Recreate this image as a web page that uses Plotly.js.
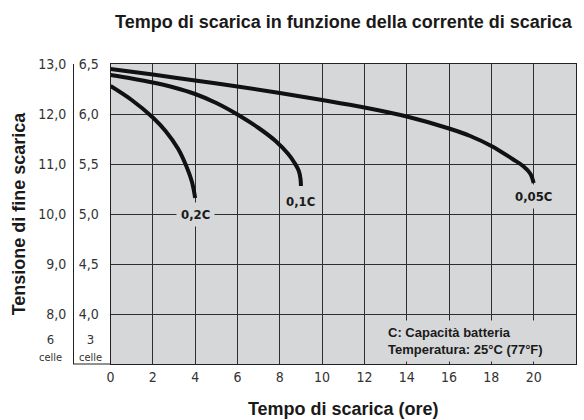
<!DOCTYPE html>
<html>
<head>
<meta charset="utf-8">
<script src="https://cdn.plot.ly/plotly-3.0.1.min.js"></script>
<style>html,body{margin:0;padding:0;background:#fff;}#chart{width:584px;height:420px;}</style>
</head>
<body>
<div id="chart"></div>
<script>
// Discharge time (hours) vs end voltage (3-cell scale, V)
const hours005 = [0, 2, 4, 6, 8, 10, 12, 14, 16, 17, 18, 19, 19.5, 19.85, 20];
const volts005 = [6.45, 6.395, 6.335, 6.275, 6.21, 6.14, 6.065, 5.975, 5.855, 5.78, 5.68, 5.55, 5.48, 5.40, 5.31];
const hours01 = [0, 1, 2, 3, 4, 5, 6, 7, 7.8, 8.4, 8.7, 8.9, 8.98, 9.0];
const volts01 = [6.39, 6.355, 6.315, 6.265, 6.20, 6.11, 5.995, 5.86, 5.73, 5.60, 5.51, 5.43, 5.35, 5.28];
const hours02 = [0, 1, 2, 2.6, 3.2, 3.6, 3.85, 4.0];
const volts02 = [6.28, 6.14, 5.965, 5.83, 5.65, 5.47, 5.32, 5.16];

const curveNames = ['0,05C', '0,1C', '0,2C'];
const labelX = [20, 8.96, 4];
const labelY = [5.18, 5.13, 5.0];

const xTicks = [0, 2, 4, 6, 8, 10, 12, 14, 16, 18, 20, 22];
const y3Ticks = [4.0, 4.5, 5.0, 5.5, 6.0, 6.5];
const y3Text = ['4,0', '4,5', '5,0', '5,5', '6,0', '6,5'];
const y6Ticks = [8, 9, 10, 11, 12, 13];
const y6Text = ['8,0', '9,0', '10,0', '11,0', '12,0', '13,0'];
const cellsPerScale = [6, 3];
const cellWord = 'celle';
const noteText = 'C: Capacità batteria<br>Temperatura: 25°C (77°F)';

const narrow = '"Liberation Sans Narrow", "DejaVu Sans Condensed", "Arial Narrow", sans-serif';
const sans = '"Liberation Sans", Arial, Helvetica, sans-serif';
const plotBg = '#d6d7d9';
const gridC = '#2e2e2e';

const lineStyle = {color: '#111', width: 4, shape: 'spline', smoothing: 1};
const traces = [
  // 0,05C drawn on the 6-cell axis (6-cell volts = 2 x 3-cell volts)
  {x: hours005, y: volts005.map(v => 2 * v), yaxis: 'y2', name: curveNames[0], mode: 'lines', line: lineStyle, hoverinfo: 'skip'},
  {x: hours01, y: volts01, name: curveNames[1], mode: 'lines', line: lineStyle, hoverinfo: 'skip'},
  {x: hours02, y: volts02, name: curveNames[2], mode: 'lines', line: lineStyle, hoverinfo: 'skip'}
];

const annotations = curveNames.map((n, i) => ({
  x: labelX[i], y: labelY[i], xref: 'x', yref: 'y', text: '<b>' + n + '</b>',
  showarrow: false, bgcolor: plotBg, borderpad: 4,
  font: {family: narrow, size: 13, color: '#1a1a1a'}
}));
annotations.push({
  x: 12.87, y: 3.735, xref: 'x', yref: 'y', xanchor: 'left', yanchor: 'middle', align: 'left',
  text: '<b>' + noteText + '</b>', showarrow: false, bgcolor: plotBg, borderpad: 4,
  font: {family: sans, size: 13, color: '#1a1a1a'}
});
const cellX = [-0.019, 0.060];
cellsPerScale.forEach((c, i) => annotations.push({
  x: cellX[i], y: 3.66, xref: 'paper', yref: 'y', xanchor: 'center', yanchor: 'middle',
  text: c + '<br><span style="font-size:11px">' + cellWord + '</span>', showarrow: false,
  font: {family: narrow, size: 13, color: '#333'}
}));

const layout = {
  width: 584, height: 420,
  margin: {l: 60, r: 8, t: 64, b: 56},
  paper_bgcolor: '#ffffff',
  plot_bgcolor: plotBg,
  showlegend: false,
  title: {
    text: '<b>Tempo di scarica in funzione della corrente di scarica</b>',
    x: 0.588, xref: 'container', xanchor: 'center',
    y: 0.948, yref: 'container', yanchor: 'middle',
    font: {family: sans, size: 18, color: '#1a1a1a'}
  },
  xaxis: {
    domain: [0.0979, 1],
    range: [0, 22],
    tickvals: xTicks, ticktext: xTicks.map(String),
    showgrid: true, gridcolor: gridC, gridwidth: 1,
    zeroline: false, showline: true, mirror: true, linecolor: '#222', linewidth: 1,
    ticks: '', ticklabelstandoff: 0,
    tickfont: {family: narrow, size: 14, color: '#333'},
    title: {text: '<b>Tempo di scarica (ore)</b>', standoff: 18, font: {family: sans, size: 18, color: '#1a1a1a'}}
  },
  yaxis: {
    range: [3.5, 6.5],
    tickvals: y3Ticks, ticktext: y3Text,
    showgrid: true, gridcolor: gridC, gridwidth: 1,
    zeroline: false, showline: true, mirror: true, linecolor: '#222', linewidth: 1,
    ticks: '', ticklabelstandoff: 8,
    tickfont: {family: narrow, size: 14, color: '#333'}
  },
  yaxis2: {
    overlaying: 'y', anchor: 'free', position: 0.0252, side: 'left',
    range: [7, 13],
    tickvals: y6Ticks, ticktext: y6Text,
    showgrid: false, zeroline: false, showline: true, linecolor: '#222', linewidth: 1,
    ticks: '', ticklabelstandoff: 4,
    tickfont: {family: narrow, size: 14, color: '#333'},
    title: {text: '<b>Tensione di fine scarica</b>', standoff: 6, font: {family: sans, size: 18, color: '#1a1a1a'}}
  },
  shapes: [{
    type: 'line', xref: 'paper', yref: 'paper', x0: 0.0252, x1: 0.0979, y0: 0, y1: 0,
    line: {color: '#222', width: 1}
  }],
  annotations: annotations
};

Plotly.newPlot('chart', traces, layout, {staticPlot: true, displayModeBar: false});
</script>
</body>
</html>
